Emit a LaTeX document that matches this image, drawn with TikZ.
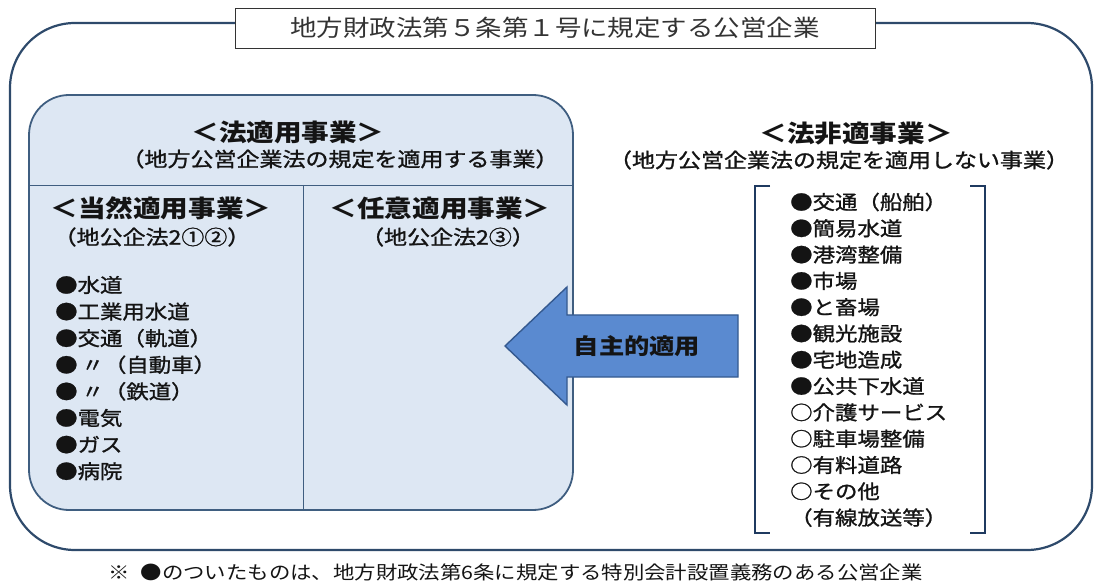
\documentclass[tikz,border=0pt]{standalone}
\usepackage{fontspec}
\setmainfont{Noto Sans CJK JP}[FakeStretch=1.15]
\newfontfamily\jpmed{Noto Sans CJK JP}[FakeStretch=1.15,FakeBold=1.2]
\newcommand\fsz[1]{\fontsize{#1pt}{#1pt}\selectfont}
\definecolor{outerc}{HTML}{2E4A6B}
\definecolor{lboxfill}{HTML}{DDE7F3}
\definecolor{lboxline}{HTML}{3F5E80}
\definecolor{arrowfill}{HTML}{5A8AD0}
\definecolor{arrowline}{HTML}{34598F}
\definecolor{brack}{HTML}{1F3A60}
\definecolor{txt}{HTML}{141414}
\begin{document}
\begin{tikzpicture}[x=1pt,y=-1pt,
  outerbox/.style={draw=outerc,line width=2.2pt,rounded corners=65pt},
  lbox/.style={draw=lboxline,fill=lboxfill,line width=1.8pt,rounded corners=40pt},
  divline/.style={draw=lboxline,line width=0.9pt},
  titlebox/.style={draw=black!80,fill=white,line width=0.9pt,minimum width=640pt,minimum height=40pt,inner sep=0pt,font=\fsz{23},text=black!80},
  head/.style={inner sep=0pt,font=\fsz{24}\bfseries,text=txt},
  subhead/.style={inner sep=0pt,font=\jpmed\fsz{20},text=txt},
  subsub/.style={inner sep=0pt,font=\jpmed\fsz{20},text=txt},
  item/.style={inner sep=0pt,anchor=west,font=\jpmed\fsz{19.5},text=txt},
  arrowshape/.style={draw=arrowline,fill=arrowfill,line width=1.4pt,line join=miter},
  arrowtext/.style={inner sep=0pt,font=\fsz{22}\bfseries,text=txt},
  bracket/.style={draw=brack,line width=2.4pt},
  foot/.style={inner sep=0pt,anchor=west,font=\fsz{18.6},text=txt}
]
\useasboundingbox (0,0) rectangle (1098,585);
% outer frame
\draw[outerbox] (10,23) rectangle (1092,550);
\node[titlebox] (title) at (555,28) {地方財政法第５条第１号に規定する公営企業};
% left box
\draw[lbox] (29,95) rectangle (573,510);
\coordinate (hl) at (29,185);
\coordinate (hr) at (573,185);
\coordinate (vt) at (303,185);
\coordinate (vb) at (303,510);
\draw[divline] (hl) -- (hr);
\draw[divline] (vt) -- (vb);
\node[head] (h1) at (288,132) {＜法適用事業＞};
\node[subhead] (s1) at (340,159) {（地方公営企業法の規定を適用する事業）};
\node[head] (h2) at (161,208) {＜当然適用事業＞};
\node[subsub] (s2) at (152,237) {（地公企法2①②）};
\node[head] (h3) at (440,208) {＜任意適用事業＞};
\node[subsub] (s3) at (448,237) {（地公企法2③）};
% left list
\node[item] (a1) at (55,285) {●水道};
\node[item] (a2) at (55,311.6) {●工業用水道};
\node[item] (a3) at (55,338.2) {●交通（軌道）};
\node[item] (a4) at (55,364.8) {●\hspace{0.2em}〃（自動車）};
\node[item] (a5) at (55,391.4) {●\hspace{0.2em}〃（鉄道）};
\node[item] (a6) at (55,418) {●電気};
\node[item] (a7) at (55,444.6) {●ガス};
\node[item] (a8) at (55,471.2) {●病院};
% arrow
\draw[arrowshape] (505,346) -- (567,287) -- (567,315) -- (738,315) -- (738,377) -- (567,377) -- (567,405) -- cycle;
\node[arrowtext] (at) at (637,346) {自主的適用};
% right side
\node[head] (h4) at (856,134) {＜法非適事業＞};
\node[subhead] (s4) at (839,160) {（地方公営企業法の規定を適用しない事業）};
\coordinate (lb1) at (770,186);
\coordinate (lb2) at (755,186);
\coordinate (lb3) at (755,533);
\coordinate (lb4) at (770,533);
\coordinate (rb1) at (970,186);
\coordinate (rb2) at (985,186);
\coordinate (rb3) at (985,533);
\coordinate (rb4) at (970,533);
\draw[bracket] (lb1) -- (lb2) -- (lb3) -- (lb4);
\draw[bracket] (rb1) -- (rb2) -- (rb3) -- (rb4);
\node[item] (b1) at (790,202) {●交通（船舶）};
\node[item] (b2) at (790,228.3) {●簡易水道};
\node[item] (b3) at (790,254.6) {●港湾整備};
\node[item] (b4) at (790,280.9) {●市場};
\node[item] (b5) at (790,307.2) {●と畜場};
\node[item] (b6) at (790,333.5) {●観光施設};
\node[item] (b7) at (790,359.8) {●宅地造成};
\node[item] (b8) at (790,386.1) {●公共下水道};
\node[item] (b9) at (790,412.4) {○介護サービス};
\node[item] (b10) at (790,438.7) {○駐車場整備};
\node[item] (b11) at (790,465) {○有料道路};
\node[item] (b12) at (790,491.3) {○その他};
\node[item] (b13) at (790,517.6) {（有線放送等）};
% footnote
\node[foot] (fn) at (108,572) {※\hspace{0.6em}●のついたものは、地方財政法第6条に規定する特別会計設置義務のある公営企業};
\end{tikzpicture}
\end{document}
